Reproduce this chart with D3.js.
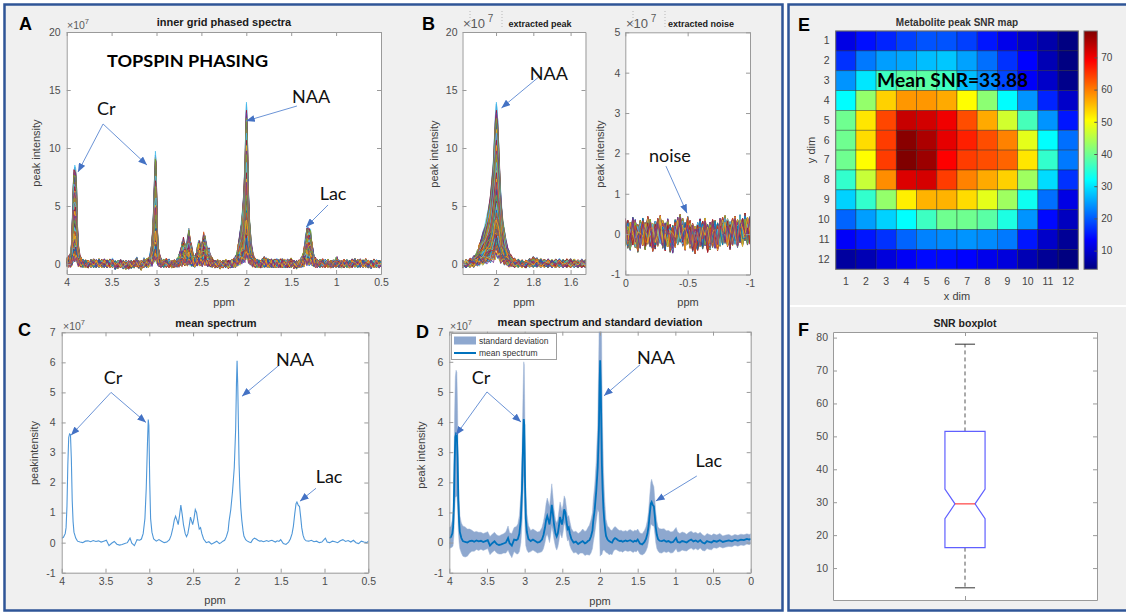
<!DOCTYPE html>
<html>
<head>
<meta charset="utf-8">
<script src="https://cdn.jsdelivr.net/npm/d3@7"></script>
<style>
  html, body { margin: 0; padding: 0; background: #ffffff; }
  svg { display: block; }
</style>
</head>
<body>
<svg id="fig" width="1126" height="614"></svg>
<script>
// ---------------- data ----------------
// chemical-shift axis (ppm) of the spectra, high to low
const ppm = [
  4.00,3.98,3.96,3.95,3.94,3.93,3.92,3.91,3.90,3.89,3.88,3.87,3.86,3.84,3.82,
  3.79,3.76,3.73,3.70,3.67,3.64,3.61,3.58,3.55,3.52,3.49,3.46,3.43,3.40,3.37,3.34,3.31,3.28,3.25,3.22,3.20,3.17,3.14,3.11,
  3.09,3.07,3.05,3.035,3.02,3.012,3.005,2.995,2.985,2.97,2.95,2.92,
  2.89,2.86,2.83,2.80,2.77,2.75,2.73,2.715,2.70,2.685,2.67,2.655,2.64,2.625,2.61,2.59,2.575,2.56,2.545,2.53,2.52,2.505,2.49,2.475,2.46,2.445,2.43,2.415,2.40,
  2.38,2.35,2.32,2.29,2.26,2.23,2.20,2.18,2.16,2.14,2.12,2.10,
  2.09,2.07,2.05,2.03,2.014,2.005,1.998,1.99,1.982,1.975,1.966,1.955,1.944,1.93,1.92,1.90,
  1.88,1.86,1.84,1.82,1.80,1.78,1.76,1.74,1.72,1.70,1.68,1.66,1.64,1.62,1.60,1.58,1.56,1.54,1.52,1.50,1.47,1.44,1.41,
  1.39,1.37,1.355,1.34,1.325,1.315,1.30,1.285,1.27,1.26,1.245,1.23,1.21,
  1.18,1.15,1.12,1.09,1.06,1.03,1.00,0.99,0.97,0.94,0.91,0.88,0.85,0.82,0.79,0.76,0.73,0.70,0.67,0.64,0.61,0.58,0.55,0.52,0.49,0.45,0.41,0.37,0.33,0.29,0.25,0.21,0.17,0.13,0.09,0.05,0.02,0.00
];
// mean spectrum (x1e7)
const meanSpectrum = [
  0.15,0.18,0.3,0.5,1.2,2.6,3.5,3.62,3.6,2.8,1.4,0.7,0.35,0.15,0.05,
  0.02,0.0,0.05,0.06,0.03,0.07,0.04,0.06,0.02,0.05,0.08,-0.1,-0.02,0.04,-0.05,-0.08,-0.06,-0.03,0.0,0.15,-0.02,-0.1,0.1,0.08,
  0.12,0.3,0.8,1.8,3.4,4.1,3.9,2.0,0.8,0.35,0.12,0.05,
  0.1,0.05,0.0,0.02,0.1,0.25,0.5,0.75,0.88,0.75,0.6,0.9,1.25,0.95,0.6,0.3,0.2,0.3,0.55,0.85,0.75,0.6,0.8,1.1,1.0,0.7,0.45,0.5,0.3,
  0.12,0.0,0.03,-0.05,0.0,0.05,-0.03,0.0,0.05,0.08,0.2,0.4,
  0.7,1.1,1.7,2.5,3.8,5.3,6.05,5.2,3.8,2.6,1.8,1.15,0.75,0.4,0.22,0.1,
  0.05,0.02,0.0,0.1,0.15,0.12,0.08,0.05,0.06,0.03,0.05,0.07,0.04,0.06,0.08,0.05,0.02,0.06,0.04,0.1,-0.03,-0.06,0.02,
  0.12,0.3,0.55,0.95,1.3,1.35,1.25,1.2,0.8,0.5,0.25,0.12,0.06,
  0.05,0.08,0.03,0.05,0.0,0.02,0.12,0.15,0.02,0.0,0.05,0.03,0.0,0.06,0.1,0.04,0.07,0.02,0.08,0.0,-0.03,0.05,0.02,0.0,0.06,0.03,0.08,0.02,0.05,0.07,0.04,0.09,0.06,0.1,0.08,0.12,0.1,0.12
];
// standard deviation across voxels (x1e7)
const stdSpectrum = [
  0.35,0.35,0.45,0.6,1.0,1.6,2.0,2.1,2.05,1.6,1.0,0.7,0.55,0.5,0.5,
  0.5,0.45,0.4,0.35,0.32,0.3,0.3,0.28,0.28,0.28,0.28,0.3,0.3,0.3,0.3,0.3,0.32,0.32,0.35,0.4,0.35,0.4,0.4,0.45,
  0.5,0.6,0.8,1.2,1.7,1.9,2.0,1.6,0.9,0.6,0.45,0.35,
  0.35,0.35,0.35,0.35,0.4,0.45,0.5,0.55,0.6,0.6,0.6,0.65,0.7,0.6,0.5,0.45,0.45,0.45,0.5,0.5,0.5,0.45,0.45,0.45,0.45,0.45,0.4,0.4,0.4,
  0.35,0.35,0.35,0.35,0.35,0.4,0.4,0.4,0.45,0.5,0.55,0.6,
  0.7,0.8,1.0,1.4,2.8,5.0,6.5,5.6,4.2,3.0,2.1,1.4,1.0,0.7,0.55,0.45,
  0.45,0.4,0.4,0.38,0.38,0.36,0.35,0.35,0.35,0.35,0.33,0.33,0.33,0.35,0.35,0.35,0.35,0.35,0.35,0.35,0.35,0.35,0.38,
  0.4,0.45,0.5,0.6,0.7,0.75,0.7,0.65,0.55,0.5,0.45,0.4,0.4,
  0.4,0.38,0.36,0.35,0.35,0.35,0.35,0.35,0.33,0.3,0.3,0.3,0.28,0.28,0.28,0.28,0.27,0.27,0.26,0.26,0.25,0.25,0.25,0.24,0.23,0.22,0.22,0.2,0.2,0.2,0.18,0.18,0.18,0.18,0.18,0.17,0.17,0.17
];
// baseline noise samples (x1e7), reused per voxel with an index offset
const traceNoise = [
  0.12,-0.25,0.31,-0.08,0.18,-0.33,0.05,0.27,-0.15,-0.29,0.22,0.09,-0.2,0.34,-0.04,-0.27,
  0.16,0.02,-0.12,0.29,-0.31,0.11,0.24,-0.18,-0.06,0.33,-0.22,0.07,-0.35,0.19,0.14,-0.1,
  0.26,-0.26,0.01,0.21,-0.16,-0.3,0.3,-0.02,0.1,-0.24,0.17,-0.09,0.28,-0.19,0.04
];
// signal-free region used for the noise estimate
const noisePpm = [
  0,-0.02,-0.04,-0.06,-0.08,-0.1,-0.12,-0.14,-0.16,-0.18,-0.2,-0.22,-0.24,-0.26,-0.28,-0.3,-0.32,
  -0.34,-0.36,-0.38,-0.4,-0.42,-0.44,-0.46,-0.48,-0.5,-0.52,-0.54,-0.56,-0.58,-0.6,-0.62,-0.64,-0.66,
  -0.68,-0.7,-0.72,-0.74,-0.76,-0.78,-0.8,-0.82,-0.84,-0.86,-0.88,-0.9,-0.92,-0.94,-0.96,-0.98,-1
];
const noiseProfile = [
  0.05,0.0,-0.05,0.08,0.02,-0.1,0.0,0.06,-0.04,0.1,0.03,-0.08,-0.02,0.05,0.12,0.0,-0.06,
  0.04,-0.1,-0.12,0.02,0.08,0.15,0.05,-0.05,0.1,0.0,-0.08,-0.14,-0.05,0.04,-0.02,0.06,-0.1,
  -0.04,0.02,0.0,-0.06,0.05,0.08,0.12,0.04,-0.03,0.06,0.1,0.02,0.14,0.05,0.18,0.08,0.1
];
// NAA peak SNR per voxel (rows = y dim 1..12, columns = x dim 1..12)
const snrMap = [
  [11.5,14.5,16,18,19.5,19.5,18,15,12,9.5,7.3,4.4],
  [17,22.2,24.9,25.6,27.2,27.9,25.2,21.5,17,13.5,8,4.4],
  [24.2,30.2,36.4,38.5,38.5,36.4,27.2,23.5,18.5,13,9.5,5],
  [31.9,42.7,53.8,58,58,56.6,50.5,42.1,31.9,24.2,16,9.5],
  [40,52.3,63.9,73,72.2,70,63.4,56.6,47.1,37,24.2,15],
  [40,53,64.6,77.5,75,70.8,66.7,63.4,59.5,48.6,32,21.5],
  [40,50.5,64.6,78.2,76.1,69,64.6,63.4,61.7,52.3,35.6,22.2],
  [35.6,46.4,58.7,71.5,72,64.6,59.5,56.6,53.8,43.5,29.4,17],
  [28.7,35.6,42.7,51.6,56,56,53,48.6,43.5,33,21.5,11.5],
  [20.7,24.9,28.7,32,36.4,40,40,38.5,34,24.2,14,8.8],
  [13,15,17,20.7,22.9,23.5,24.2,23.5,22.2,15,9.5,5.8],
  [6.5,8,10.9,12.7,14,14,13.5,12,10.9,8,5.8,4.2]
];
const meanSNR = 33.88;
const snrRange = [4.2, 78.2];
// notched boxplot summary of the SNR map
const boxKeys = ["lowerWhisker","q1","notchLow","median","notchHigh","q3","upperWhisker"];
const boxValues = [4, 16.2, 25, 29.5, 34, 51.5, 78];

// tick values
const spectrumTicks = [4,3.5,3,2.5,2,1.5,1,0.5];
const spectrumTicksD = [4,3.5,3,2.5,2,1.5,1,0.5,0];
const peakTicks = [2,1.8,1.6];
const noiseTicks = [0,-0.5,-1];
const intensityTicksA = [0,5,10,15,20];
const intensityTicksNoise = [-1,0,1,2,3,4,5];
const intensityTicksMean = [-1,0,1,2,3,4,5,6,7];
const gridTicks = [1,2,3,4,5,6,7,8,9,10,11,12];
const colorbarTicks = [10,20,30,40,50,60,70];
const snrTicks = [10,20,30,40,50,60,70,80];

// MATLAB default line colour order
const lineColors = ["#0072BD","#D95319","#EDB120","#7E2F8E","#77AC30","#4DBEEE","#A2142F"];

// annotation call-outs (data coordinates of each panel)
const annotA = [
  {label:"Cr",  at:[3.56,12.85], from:[3.595,12.07], tips:[[3.874,7.93],[3.106,8.53]]},
  {label:"NAA", at:[1.278,13.88], from:[1.436,13.62], tips:[[2.003,12.33]]},
  {label:"Lac", at:[1.034,5.52], from:[1.09,5.09], tips:[[1.335,3.19]]}
];
const annotB1 = [{label:"NAA", at:[1.717,15.86], from:[1.771,16.12], tips:[[1.971,13.45]]}];
const annotB2 = [{label:"noise", at:[-0.358,1.784], from:[-0.326,1.685], tips:[[-0.495,0.52]]}];
const annotC = [
  {label:"Cr",  at:[3.414,5.27], from:[3.437,5.0], tips:[[3.894,3.57],[3.038,4.0]]},
  {label:"NAA", at:[1.337,5.87], from:[1.52,5.9], tips:[[1.942,4.87]]},
  {label:"Lac", at:[0.948,2.0], from:[1.097,1.81], tips:[[1.28,1.38]]}
];
const annotD = [
  {label:"Cr",  at:[3.579,5.265], from:[3.5,5.0], tips:[[3.911,3.57],[3.048,4.0]]},
  {label:"NAA", at:[1.257,5.93], from:[1.469,5.9], tips:[[1.947,4.87]]},
  {label:"Lac", at:[0.556,2.51], from:[0.715,2.21], tips:[[1.259,1.38]]}
];

// ---------------- styling ----------------
const SANS = "'Liberation Sans', Arial, Helvetica, sans-serif";
const CAL = "Lato, 'Open Sans', sans-serif";
const FIG_BG = "#f0f0f0";
const PANEL_BLUE = "#2F5597";
const FRAME = "#9a9a9a";
const TICK_TEXT = "#4d4d4d";
const ARROW_HEAD = "#4472C4";
const ARROW_LINE = "#6c94d6";

const svg = d3.select("#fig");
const defs = svg.append("defs");
defs.append("marker").attr("id", "arrowHead")
  .attr("viewBox", "0 0 10 8").attr("refX", 10).attr("refY", 4)
  .attr("markerWidth", 9).attr("markerHeight", 7)
  .attr("markerUnits", "userSpaceOnUse").attr("orient", "auto")
  .append("path").attr("d", "M0,0L10,4L0,8Z").attr("fill", ARROW_HEAD);

// figure background and the two framed groups
svg.append("rect").attr("width", 1126).attr("height", 614).attr("fill", "#fff");
svg.append("rect").attr("x", 4.5).attr("y", 4.5).attr("width", 778).attr("height", 606)
  .attr("fill", FIG_BG).attr("stroke", PANEL_BLUE).attr("stroke-width", 2.5);
svg.append("rect").attr("x", 788.5).attr("y", 4.5).attr("width", 345).attr("height", 606)
  .attr("fill", FIG_BG).attr("stroke", PANEL_BLUE).attr("stroke-width", 2.5);
svg.append("line").attr("x1", 790).attr("x2", 1126).attr("y1", 306).attr("y2", 306)
  .attr("stroke", "#fff").attr("stroke-width", 2);

// ---------------- helpers ----------------
let clipCount = 0;
function plotArea(x, y) {
  const [x0, x1] = x.range(), [y0, y1] = y.range();
  const id = "plotClip" + (clipCount++);
  defs.append("clipPath").attr("id", id).append("rect")
    .attr("x", x0).attr("y", y1).attr("width", x1 - x0).attr("height", y0 - y1);
  svg.append("rect").attr("x", x0).attr("y", y1).attr("width", x1 - x0).attr("height", y0 - y1).attr("fill", "#fff");
  return svg.append("g").attr("clip-path", `url(#${id})`);
}

function drawAxes(x, y, xt, yt, o = {}) {
  const [x0, x1] = x.range(), [y0, y1] = y.range();
  const fmt = d => String(d);
  const tl = o.tick ?? 4;
  const g = svg.append("g");
  g.append("g").attr("transform", `translate(0,${y0})`)
    .call(d3.axisBottom(x).tickValues(xt).tickSize(-tl).tickSizeOuter(0).tickPadding(o.xpad ?? 5).tickFormat(o.noXLabels ? "" : fmt));
  g.append("g").attr("transform", `translate(0,${y1})`)
    .call(d3.axisTop(x).tickValues(xt).tickSize(-tl).tickSizeOuter(0).tickFormat(""));
  g.append("g").attr("transform", `translate(${x0},0)`)
    .call(d3.axisLeft(y).tickValues(yt).tickSize(-tl).tickSizeOuter(0).tickPadding(o.ypad ?? 6).tickFormat(fmt));
  g.append("g").attr("transform", `translate(${x1},0)`)
    .call(d3.axisRight(y).tickValues(yt).tickSize(-tl).tickSizeOuter(0).tickFormat(""));
  g.selectAll(".domain, .tick line").attr("stroke", FRAME);
  g.selectAll("text").attr("fill", TICK_TEXT).attr("font-size", o.fs ?? 10.5).attr("font-family", SANS);
  return g;
}

function text(x, y, s, o = {}) {
  const t = svg.append("text").attr("x", x).attr("y", y).text(s)
    .attr("font-family", o.ff ?? SANS).attr("font-size", o.fs ?? 11)
    .attr("font-weight", o.fw ?? "normal").attr("text-anchor", o.anchor ?? "start")
    .attr("fill", o.fill ?? "#1a1a1a");
  if (o.rotate) t.attr("transform", `rotate(-90,${x},${y})`);
  if (o.len) t.attr("textLength", o.len).attr("lengthAdjust", "spacingAndGlyphs");
  return t;
}

function exponent(x, y, big) {
  const t = text(x, y, "\u00d710", {fs: big ? 13 : 10.5, fill: "#5a5a5a"});
  t.append("tspan").attr("dy", big ? -6 : -5).attr("font-size", big ? 10 : 7.5).text(big ? "  7" : "7");
}

function annotate(x, y, items) {
  items.forEach(a => {
    const fx = x(a.from[0]), fy = y(a.from[1]);
    a.tips.forEach(t => {
      svg.append("line").attr("x1", fx).attr("y1", fy).attr("x2", x(t[0])).attr("y2", y(t[1]))
        .attr("stroke", ARROW_LINE).attr("stroke-width", 1).attr("marker-end", "url(#arrowHead)");
    });
    text(x(a.at[0]), y(a.at[1]), a.label, {ff: CAL, fs: 18, anchor: "middle", fill: "#111"});
  });
}

const lineOf = (x, y) => d3.line().x(d => x(d[0])).y(d => y(d[1]));

// one spectrum per voxel: mean profile scaled by that voxel's SNR, plus baseline noise
const voxelSNR = snrMap.flat();
const traces = voxelSNR.map((snr, k) =>
  ppm.map((p, i) => [p, meanSpectrum[i] * snr / meanSNR + traceNoise[(i + 13 * k) % traceNoise.length]]));
const noiseTraces = voxelSNR.map((snr, k) =>
  noisePpm.map((p, i) => [p, noiseProfile[i] + traceNoise[(i + 11 * k) % traceNoise.length]]));

// ---------------- A: inner grid phased spectra ----------------
const xA = d3.scaleLinear().domain([4, 0.5]).range([66.7, 381]);
const yA = d3.scaleLinear().domain([-0.86, 20]).range([274, 32]);
plotArea(xA, yA).selectAll("path").data(traces).join("path")
  .attr("d", lineOf(xA, yA)).attr("fill", "none")
  .attr("stroke", (d, k) => lineColors[k % lineColors.length]).attr("stroke-width", 0.8);
drawAxes(xA, yA, spectrumTicks, intensityTicksA);
text(19, 30, "A", {fs: 18, fw: "bold", fill: "#000"});
text(224, 26, "inner grid phased spectra", {fs: 11, fw: "bold", anchor: "middle"});
exponent(67, 29, false);
text(40, 153, "peak intensity", {fs: 11, anchor: "middle", rotate: true, fill: "#404040"});
text(224, 306, "ppm", {fs: 11, anchor: "middle", fill: "#404040"});
text(xA(3.551), yA(16.98), "TOPSPIN PHASING", {ff: CAL, fs: 17, fw: "bold", fill: "#000", len: 161});
annotate(xA, yA, annotA);

// ---------------- B: extracted peak / extracted noise ----------------
[470, 502, 633, 665].forEach(px => svg.append("line").attr("x1", px).attr("x2", px).attr("y1", 11).attr("y2", 28)
  .attr("stroke", "#b8b8b8").attr("stroke-dasharray", "1,2"));

const xB1 = d3.scaleLinear().domain([2.18, 1.52]).range([462.5, 585.5]);
const yB1 = d3.scaleLinear().domain([-0.86, 20]).range([274, 32]);
const peakWindow = traces.map(tr => tr.filter(d => d[0] <= 2.22 && d[0] >= 1.48));
plotArea(xB1, yB1).selectAll("path").data(peakWindow).join("path")
  .attr("d", lineOf(xB1, yB1)).attr("fill", "none")
  .attr("stroke", (d, k) => lineColors[k % lineColors.length]).attr("stroke-width", 0.8);
drawAxes(xB1, yB1, peakTicks, intensityTicksA, {ypad: 5});
text(422, 30, "B", {fs: 18, fw: "bold", fill: "#000"});
exponent(463, 28, true);
text(540, 27, "extracted peak", {fs: 9, fw: "bold", anchor: "middle"});
text(438, 154, "peak intensity", {fs: 11, anchor: "middle", rotate: true, fill: "#404040"});
text(524, 306, "ppm", {fs: 11, anchor: "middle", fill: "#404040"});
annotate(xB1, yB1, annotB1);

const xB2 = d3.scaleLinear().domain([0, -1]).range([625.3, 750]);
const yB2 = d3.scaleLinear().domain([-1, 5]).range([274.5, 32.3]);
plotArea(xB2, yB2).selectAll("path").data(noiseTraces).join("path")
  .attr("d", lineOf(xB2, yB2)).attr("fill", "none")
  .attr("stroke", (d, k) => lineColors[k % lineColors.length]).attr("stroke-width", 0.8);
drawAxes(xB2, yB2, noiseTicks, intensityTicksNoise, {ypad: 5});
exponent(626, 28, true);
text(701, 27, "extracted noise", {fs: 9, fw: "bold", anchor: "middle"});
text(604, 154, "peak intensity", {fs: 11, anchor: "middle", rotate: true, fill: "#404040"});
text(688, 306, "ppm", {fs: 11, anchor: "middle", fill: "#404040"});
annotate(xB2, yB2, annotB2);

// ---------------- C: mean spectrum ----------------
const meanPoints = ppm.map((p, i) => [p, meanSpectrum[i]]);
const xC = d3.scaleLinear().domain([4, 0.5]).range([61.7, 368.3]);
const yC = d3.scaleLinear().domain([-1, 7]).range([572.7, 332.3]);
plotArea(xC, yC).append("path").datum(meanPoints)
  .attr("d", lineOf(xC, yC)).attr("fill", "none").attr("stroke", "#4f97d8").attr("stroke-width", 1.1);
drawAxes(xC, yC, spectrumTicks, intensityTicksMean);
text(18, 336, "C", {fs: 18, fw: "bold", fill: "#000"});
text(216, 327, "mean spectrum", {fs: 11, fw: "bold", anchor: "middle"});
exponent(63, 330, false);
text(38, 453, "peakintensity", {fs: 11, anchor: "middle", rotate: true, fill: "#404040"});
text(215, 604, "ppm", {fs: 11, anchor: "middle", fill: "#404040"});
annotate(xC, yC, annotC);

// ---------------- D: mean spectrum and standard deviation ----------------
const xD = d3.scaleLinear().domain([4, 0]).range([449.3, 750.7]);
const yD = d3.scaleLinear().domain([-1, 7]).range([572.7, 331.7]);
const gD = plotArea(xD, yD);
gD.append("path").datum(ppm.map((p, i) => [p, meanSpectrum[i] - stdSpectrum[i], meanSpectrum[i] + stdSpectrum[i]]))
  .attr("d", d3.area().x(d => xD(d[0])).y0(d => yD(d[1])).y1(d => yD(d[2])))
  .attr("fill", "#8ea8cf").attr("stroke", "#9fb5d6").attr("stroke-width", 0.5);
gD.append("path").datum(meanPoints)
  .attr("d", lineOf(xD, yD)).attr("fill", "none").attr("stroke", "#0072BD").attr("stroke-width", 1.8);
drawAxes(xD, yD, spectrumTicksD, intensityTicksMean);
text(416, 338, "D", {fs: 18, fw: "bold", fill: "#000"});
text(600, 326, "mean spectrum and standard deviation", {fs: 11, fw: "bold", anchor: "middle"});
exponent(450, 330, false);
text(425, 455, "peak intensity", {fs: 11, anchor: "middle", rotate: true, fill: "#404040"});
text(600, 605, "ppm", {fs: 11, anchor: "middle", fill: "#404040"});
// legend
const legD = svg.append("g");
legD.append("rect").attr("x", 451.5).attr("y", 333.5).attr("width", 105).attr("height", 26)
  .attr("fill", "#fff").attr("stroke", "#a0a0a0");
legD.append("rect").attr("x", 454).attr("y", 336.5).attr("width", 22).attr("height", 8).attr("fill", "#8ea8cf");
legD.append("line").attr("x1", 454).attr("x2", 476).attr("y1", 353).attr("y2", 353)
  .attr("stroke", "#0072BD").attr("stroke-width", 2);
text(479, 343.5, "standard deviation", {fs: 8.5, fill: "#333"});
text(479, 356, "mean spectrum", {fs: 8.5, fill: "#333"});
annotate(xD, yD, annotD);

// ---------------- E: SNR map ----------------
function jet(t) {
  const c = v => Math.max(0, Math.min(1, v));
  const r = c(Math.min(4 * t - 1.5, -4 * t + 4.5));
  const g = c(Math.min(4 * t - 0.5, -4 * t + 3.5));
  const b = c(Math.min(4 * t + 0.5, -4 * t + 2.5));
  return d3.rgb(r * 255, g * 255, b * 255).formatHex();
}
const snrToUnit = d3.scaleLinear().domain(snrRange).range([0, 1]).clamp(true);
const xE = d3.scaleBand().domain(gridTicks).range([835.7, 1078.3]);
const yE = d3.scaleBand().domain(gridTicks).range([31, 269.3]);
svg.append("g").selectAll("g").data(snrMap).join("g")
  .each(function (row, r) {
    d3.select(this).selectAll("rect").data(row).join("rect")
      .attr("x", (d, c) => xE(gridTicks[c])).attr("y", yE(gridTicks[r]))
      .attr("width", xE.bandwidth()).attr("height", yE.bandwidth())
      .attr("fill", d => jet(snrToUnit(d)))
      .attr("stroke", "rgba(30,30,30,0.45)").attr("stroke-width", 0.8);
  });
svg.append("rect").attr("x", 835.7).attr("y", 31).attr("width", 242.6).attr("height", 238.3)
  .attr("fill", "none").attr("stroke", "#777");
const eAxes = svg.append("g");
eAxes.append("g").attr("transform", "translate(835.7,0)")
  .call(d3.axisLeft(yE).tickSize(0).tickPadding(6));
eAxes.append("g").attr("transform", "translate(0,269.3)")
  .call(d3.axisBottom(xE).tickSize(0).tickPadding(8));
eAxes.selectAll(".domain").remove();
eAxes.selectAll("text").attr("fill", "#444").attr("font-size", 10.5).attr("font-family", SANS);
// colour bar
const grad = defs.append("linearGradient").attr("id", "jetBar").attr("x1", 0).attr("y1", 1).attr("x2", 0).attr("y2", 0);
d3.range(0, 1.0001, 0.025).forEach(t => grad.append("stop").attr("offset", t).attr("stop-color", jet(t)));
svg.append("rect").attr("x", 1084).attr("y", 31).attr("width", 13.3).attr("height", 238.3)
  .attr("fill", "url(#jetBar)").attr("stroke", "#777");
const yCb = d3.scaleLinear().domain(snrRange).range([269.3, 31]);
const cbAxis = svg.append("g").attr("transform", "translate(1097.3,0)")
  .call(d3.axisRight(yCb).tickValues(colorbarTicks).tickSize(-3).tickSizeOuter(0).tickPadding(4));
cbAxis.selectAll(".domain").remove();
cbAxis.selectAll(".tick line").attr("stroke", "#555");
cbAxis.selectAll("text").attr("fill", "#444").attr("font-size", 10).attr("font-family", SANS);
text(798, 31, "E", {fs: 18, fw: "bold", fill: "#000"});
text(957, 25.5, "Metabolite peak SNR map", {fs: 10, fw: "bold", anchor: "middle", fill: "#333"});
text(815, 150, "y dim", {fs: 11, anchor: "middle", rotate: true, fill: "#404040"});
text(957, 300, "x dim", {fs: 11, anchor: "middle", fill: "#404040"});
text(xE(3) + 1, yE(3) + yE.bandwidth() * 0.8, "Mean SNR=" + meanSNR.toFixed(2),
  {ff: CAL, fs: 19, fw: "bold", fill: "#000", len: 151});

// ---------------- F: SNR boxplot ----------------
const box = Object.fromEntries(boxKeys.map((k, i) => [k, boxValues[i]]));
const xF = d3.scaleLinear().domain([0.5, 1.5]).range([833, 1097]);
const yF = d3.scaleLinear().domain([0.3, 81.7]).range([600, 332]);
const gF = plotArea(xF, yF);
const boxHalf = 0.076, notchHalf = 0.038;
const L = xF(1 - boxHalf), R = xF(1 + boxHalf), Ln = xF(1 - notchHalf), Rn = xF(1 + notchHalf), C = xF(1);
gF.append("line").attr("x1", C).attr("x2", C).attr("y1", yF(box.q3)).attr("y2", yF(box.upperWhisker))
  .attr("stroke", "#555").attr("stroke-dasharray", "4,3");
gF.append("line").attr("x1", C).attr("x2", C).attr("y1", yF(box.q1)).attr("y2", yF(box.lowerWhisker))
  .attr("stroke", "#555").attr("stroke-dasharray", "4,3");
[box.upperWhisker, box.lowerWhisker].forEach(v =>
  gF.append("line").attr("x1", Ln).attr("x2", Rn).attr("y1", yF(v)).attr("y2", yF(v)).attr("stroke", "#333"));
gF.append("path")
  .attr("d", d3.line()([
    [L, yF(box.q3)], [R, yF(box.q3)], [R, yF(box.notchHigh)], [Rn, yF(box.median)], [R, yF(box.notchLow)],
    [R, yF(box.q1)], [L, yF(box.q1)], [L, yF(box.notchLow)], [Ln, yF(box.median)], [L, yF(box.notchHigh)]
  ]) + "Z")
  .attr("fill", "none").attr("stroke", "#6060ff").attr("stroke-width", 1.2);
gF.append("line").attr("x1", Ln).attr("x2", Rn).attr("y1", yF(box.median)).attr("y2", yF(box.median))
  .attr("stroke", "#ff4040").attr("stroke-width", 1.2);
drawAxes(xF, yF, [1], snrTicks, {noXLabels: true, fs: 10.5, ypad: 5});
text(798, 336, "F", {fs: 18, fw: "bold", fill: "#000"});
text(965, 327, "SNR boxplot", {fs: 10.5, fw: "bold", anchor: "middle", fill: "#222"});
</script>
</body>
</html>
